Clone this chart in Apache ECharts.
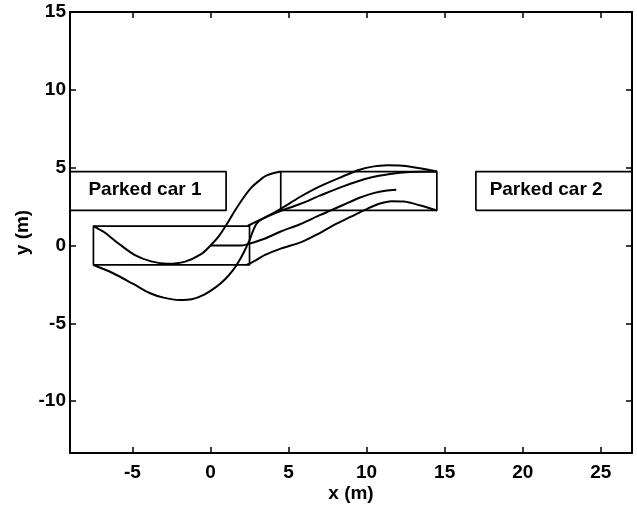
<!DOCTYPE html>
<html>
<head>
<meta charset="utf-8">
<script src="https://cdn.jsdelivr.net/npm/echarts@6/dist/echarts.min.js"></script>
<style>html,body{margin:0;padding:0;background:#fff}#c{width:637px;height:510px}</style>
</head>
<body>
<div id="c"></div>
<script>
// ---- data ----
const xTicks = [-5, 0, 5, 10, 15, 20, 25];
const yTicks = [-10, -5, 0, 5, 10, 15];
const xRange = [-9, 27];
const yRange = [-13.33, 15];

const parkedCar1 = [[-9, 2.25], [1, 2.25], [1, 4.75], [-9, 4.75], [-9, 2.25]];
const parkedCar2 = [[17, 2.25], [27, 2.25], [27, 4.75], [17, 4.75], [17, 2.25]];
const startBox = [[-7.5, -1.25], [2.5, -1.25], [2.5, 1.25], [-7.5, 1.25], [-7.5, -1.25]];
const endBox = [[4.5, 2.25], [14.5, 2.25], [14.5, 4.75], [4.5, 4.75], [4.5, 2.25]];

const pathA = [[-7.5, 1.25], [-6.8, 0.85], [-5.96, 0.18], [-4.87, -0.6], [-3.8, -1.02], [-2.75, -1.17],
  [-1.67, -1.05], [-0.6, -0.55], [0, 0], [0.5, 0.55], [1.0, 1.3], [1.54, 2.2], [2.1, 3.05],
  [2.6, 3.7], [3.1, 4.15], [3.6, 4.5], [4.5, 4.75]];
const pathB = [[-7.5, -1.25], [-6.3, -1.75], [-4.98, -2.45], [-3.9, -3.05], [-3, -3.35], [-2, -3.5],
  [-1.2, -3.45], [-0.4, -3.15], [0.37, -2.66], [0.95, -2.15], [1.43, -1.6], [1.8, -1.05],
  [2.15, -0.4], [2.5, 0.35], [2.75, 1.0], [2.95, 1.4], [3.3, 1.7], [4.5, 2.22], [5.7, 2.65],
  [7, 3.2], [8.5, 3.8], [10.2, 4.35], [11.5, 4.6], [12.8, 4.72], [14.5, 4.75]];
const pathFrontUpper = [[2.4, 1.27], [3.5, 1.8], [4.5, 2.35], [5.7, 3.1], [7, 3.8], [8.5, 4.45],
  [9.5, 4.85], [10.3, 5.05], [11.3, 5.15], [12.3, 5.12], [13.3, 4.98], [14.5, 4.75]];
const pathCenter = [[0, 0], [2.0, 0], [2.5, 0.12], [3.5, 0.45], [4.5, 0.9], [5.7, 1.35], [7, 1.95],
  [8.5, 2.6], [9.5, 3.05], [10.5, 3.38], [11.2, 3.52], [11.9, 3.58]];
const pathFrontLower = [[2.3, -1.25], [2.9, -0.95], [3.46, -0.62], [4.5, -0.2], [5.85, 0.23],
  [7, 0.8], [7.84, 1.28], [9, 1.85], [10, 2.34], [10.8, 2.68], [11.6, 2.85], [12.4, 2.82],
  [13.4, 2.58], [14.5, 2.25]];

const carLabels = [[-4.2, 3.55, 'Parked car 1'], [21.5, 3.55, 'Parked car 2']];

// ---- chart ----
const FONT = '"Liberation Sans", Arial, Helvetica, sans-serif';
const chart = echarts.init(document.getElementById('c'), null, {renderer: 'canvas'});

function lineSeries(data, smooth, width) {
  return {
    type: 'line', data: data, showSymbol: false, symbol: 'none',
    smooth: smooth ? 0.3 : false,
    lineStyle: {color: '#000', width: width}, silent: true, z: 3
  };
}

const axisCommonX = {
  type: 'value', min: xRange[0], max: xRange[1],
  splitLine: {show: false},
  axisLine: {show: true, onZero: false, lineStyle: {color: '#000', width: 2}},
  axisTick: {show: true, inside: true, length: 6, customValues: xTicks, lineStyle: {color: '#000', width: 1.5}}
};
const axisCommonY = {
  type: 'value', min: yRange[0], max: yRange[1],
  splitLine: {show: false},
  axisLine: {show: true, onZero: false, lineStyle: {color: '#000', width: 2}},
  axisTick: {show: true, inside: true, length: 6, customValues: yTicks, lineStyle: {color: '#000', width: 1.5}}
};

chart.setOption({
  animation: false,
  backgroundColor: '#fff',
  grid: {left: 70, right: 5, top: 12, bottom: 57, containLabel: false},
  xAxis: [
    Object.assign({}, axisCommonX, {
      position: 'bottom',
      name: 'x (m)', nameLocation: 'middle', nameGap: 31, nameMoveOverlap: false,
      nameTextStyle: {color: '#000', fontSize: 19, fontWeight: 'bold', fontFamily: FONT},
      axisLabel: {show: true, customValues: xTicks, margin: 10, color: '#000', fontSize: 19, fontWeight: 'bold', fontFamily: FONT}
    }),
    Object.assign({}, axisCommonX, {position: 'top', axisLabel: {show: false}})
  ],
  yAxis: [
    Object.assign({}, axisCommonY, {
      position: 'left',
      name: 'y (m)', nameLocation: 'middle', nameGap: 38, nameMoveOverlap: false,
      nameTextStyle: {color: '#000', fontSize: 19, fontWeight: 'bold', fontFamily: FONT},
      axisLabel: {show: true, customValues: yTicks, margin: 4, color: '#000', fontSize: 19, fontWeight: 'bold', fontFamily: FONT}
    }),
    Object.assign({}, axisCommonY, {position: 'right', axisLabel: {show: false}})
  ],
  series: [
    lineSeries(parkedCar1, false, 1.7),
    lineSeries(parkedCar2, false, 1.7),
    lineSeries(startBox, false, 1.7),
    lineSeries(endBox, false, 1.7),
    lineSeries(pathA, true, 2),
    lineSeries(pathB, true, 2),
    lineSeries(pathFrontUpper, true, 2),
    lineSeries(pathCenter, true, 2),
    lineSeries(pathFrontLower, true, 2),
    {
      type: 'scatter', symbolSize: 0, silent: true, z: 5,
      itemStyle: {opacity: 1},
      data: carLabels.map(d => ({value: [d[0], d[1]], name: d[2]})),
      label: {show: true, position: 'inside', formatter: p => p.name, color: '#000', opacity: 1,
        fontSize: 19, fontWeight: 'bold', fontFamily: FONT}
    }
  ]
});
</script>
</body>
</html>
